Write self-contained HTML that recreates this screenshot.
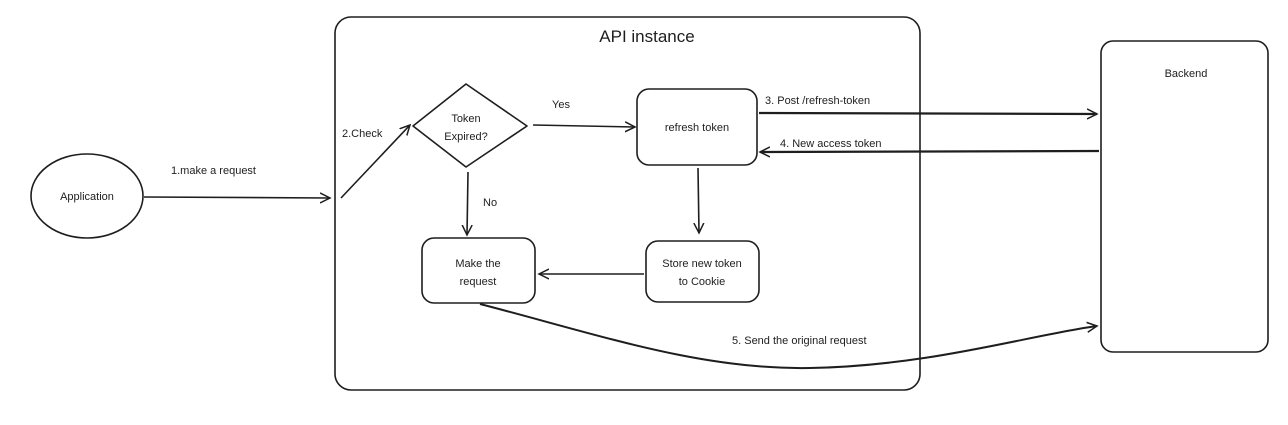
<!DOCTYPE html>
<html><head><style>
html,body{margin:0;padding:0;background:#fff;}
svg text{font-family:"Liberation Sans",sans-serif;fill:#1e1e1e;}
</style></head><body>
<svg width="1288" height="420" viewBox="0 0 1288 420" xmlns="http://www.w3.org/2000/svg">
<defs>
<marker id="a" markerWidth="12" markerHeight="12" refX="10" refY="6" orient="auto" markerUnits="userSpaceOnUse">
<path d="M0,1 L10,6 L0,11" fill="none" stroke="#1e1e1e" stroke-width="1.5"/>
</marker>
</defs>
<g fill="none" stroke="#1e1e1e" stroke-width="1.6">
<ellipse cx="87" cy="196" rx="56" ry="42"/>
<rect x="335" y="17" width="585" height="373" rx="16"/>
<path d="M466,84 L527,126 L466,167 L413,126 Z" stroke-linejoin="round"/>
<rect x="637" y="89" width="120" height="76" rx="12"/>
<rect x="646" y="241" width="113" height="61" rx="12"/>
<rect x="422" y="238" width="113" height="65" rx="12"/>
<rect x="1101" y="41" width="167" height="311" rx="12"/>
<path d="M144,197 L330,198" marker-end="url(#a)"/>
<path d="M341,198 L410,125" marker-end="url(#a)"/>
<path d="M533,125 L635,127" marker-end="url(#a)"/>
<path d="M468,172 L467,235" marker-end="url(#a)"/>
<path d="M698,168 L699,233" marker-end="url(#a)"/>
<path d="M644,274 L539,274" marker-end="url(#a)"/>
<path d="M759,113 L1097,114" stroke-width="2.2" marker-end="url(#a)"/>
<path d="M1099,151 L760,152" stroke-width="2.2" marker-end="url(#a)"/>
<path d="M480,304 C600,335 700,370 810,368 C930,366 1030,335 1097,326" stroke-width="2" marker-end="url(#a)"/>
</g>
<g font-size="11">
<text x="87" y="200" text-anchor="middle">Application</text>
<text x="171" y="174">1.make a request</text>
<text x="342" y="137">2.Check</text>
<text x="466" y="122" text-anchor="middle">Token</text>
<text x="466" y="140" text-anchor="middle">Expired?</text>
<text x="552" y="108">Yes</text>
<text x="697" y="131" text-anchor="middle">refresh token</text>
<text x="483" y="206">No</text>
<text x="478" y="267" text-anchor="middle">Make the</text>
<text x="478" y="285" text-anchor="middle">request</text>
<text x="702" y="267" text-anchor="middle">Store new token</text>
<text x="702" y="285" text-anchor="middle">to Cookie</text>
<text x="765" y="104">3. Post /refresh-token</text>
<text x="780" y="147">4. New access token</text>
<text x="732" y="344">5. Send the original request</text>
<text x="1186" y="77" text-anchor="middle">Backend</text>
</g>
<text x="647" y="42" font-size="17" text-anchor="middle">API instance</text>
</svg>
</body></html>
